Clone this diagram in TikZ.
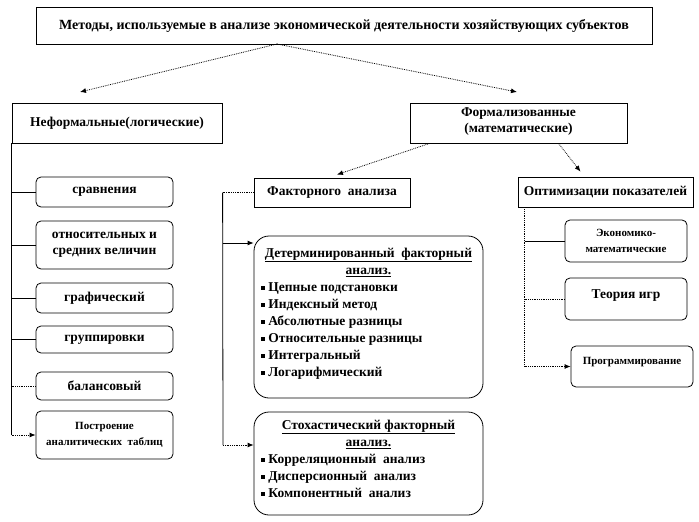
\documentclass[tikz,border=0pt]{standalone}
\usepackage{fontspec}
\setmainfont{Liberation Serif}[BoldFont={Liberation Serif Bold}]
\usetikzlibrary{arrows.meta}
\newcommand\mybul{\rule[0.12em]{0.3em}{0.3em}\hspace{0.25em}}
\begin{document}
\begin{tikzpicture}[x=1pt,y=-1pt,
  box/.style={draw, line width=0.8pt, inner sep=0pt, align=center,
    font=\bfseries\fontsize{13.5}{16}\selectfont},
  rbox/.style={box, rounded corners=5pt},
  bigbox/.style={box, rounded corners=15pt, font=\bfseries\fontsize{13.5}{17}\selectfont},
  smallfont/.style={font=\bfseries\fontsize{11}{16}\selectfont},
  conn/.style={line width=0.8pt},
  dline/.style={line width=0.8pt, densely dotted},
  tip/.style={-{Latex[length=6pt,width=5pt]}}
]
\useasboundingbox (0,0) rectangle (699,522);

% top level
\node[box, font=\bfseries\fontsize{14}{16}\selectfont, minimum width=616pt, minimum height=37pt] (top) at (344,25.5)
  {\raisebox{2pt}{Методы, используемые в анализе экономической деятельности хозяйствующих субъектов}};
\node[box, minimum width=210pt, minimum height=40pt] (nef) at (117,123)
  {\raisebox{3pt}{Неформальные(логические)}};
\node[box] (form) at (518.5,123)
  {\parbox[c][40pt][t]{217pt}{\vspace{5pt}\centering Формализованные\\(математические)\par}};

% left column
\node[rbox, minimum width=137pt, minimum height=30pt] (sr) at (104.5,192) {сравнения};
\node[rbox, minimum width=137pt, minimum height=48pt] (otn) at (104.5,245) {относительных и\\средних величин};
\node[rbox, minimum width=137pt, minimum height=30pt] (graf) at (104.5,298) {графический};
\node[rbox, minimum width=137pt, minimum height=27pt] (grup) at (104.5,339.5) {группировки};
\node[rbox, minimum width=137pt, minimum height=28pt] (bal) at (104.5,386) {балансовый};
\node[rbox, smallfont, minimum width=137pt, minimum height=48pt] (post) at (104.5,435) {Построение\\аналитических~ таблиц};

% factor analysis
\node[box, minimum width=156pt, minimum height=29pt] (fact) at (332,192.5) {Факторного~ анализа};
\node[bigbox] (det) at (368.5,317) {\parbox[c][162pt][t]{229pt}{\vspace{12pt}%
  \centering\underline{Детерминированный~ факторный}\\\underline{анализ.}\par
  \raggedright\leftskip=7pt
  \mybul Цепные подстановки\\
  \mybul Индексный метод\\
  \mybul Абсолютные разницы\\
  \mybul Относительные разницы\\
  \mybul Интегральный\\
  \mybul Логарифмический\par}};
\node[bigbox] (sto) at (368.5,463.5) {\parbox[c][103pt][t]{229pt}{\vspace{8pt}%
  \centering\underline{Стохастический факторный}\\\underline{анализ.}\par
  \raggedright\leftskip=7pt
  \mybul Корреляционный~ анализ\\
  \mybul Дисперсионный~ анализ\\
  \mybul Компонентный~ анализ\par}};

% optimisation
\node[box, minimum width=175pt, minimum height=30pt] (opt) at (605.5,192) {Оптимизации показателей};
\node[rbox, smallfont, minimum width=122pt, minimum height=42pt] (eko) at (626,241) {Экономико-\\математические};
\node[rbox, minimum width=122pt, minimum height=42pt] (teor) at (626,299) {\raisebox{10pt}{Теория игр}};
\node[rbox, smallfont, minimum width=122pt, minimum height=41pt] (prog) at (632,366.5) {\raisebox{11pt}{Программирование}};

% connectors: top
\coordinate (apex) at (277,44);
\coordinate (nefTip) at (80,92);
\coordinate (formTip) at (517,92);
\draw[dline, tip] (apex) -- (nefTip);
\draw[dline, tip] (apex) -- (formTip);
\draw[dline, tip] ([xshift=20pt]form.south west) -- ([xshift=5pt,yshift=3pt]fact.north);
\draw[dline, tip] ([xshift=40pt]form.south) -- ([xshift=-25pt,yshift=5pt]opt.north);

% left tree
\draw[conn] (nef.south west) -- (nef.south west |- post.west);
\draw[conn] (nef.south west |- sr.west) -- (sr.west);
\draw[conn] (nef.south west |- otn.west) -- (otn.west);
\draw[conn] (nef.south west |- graf.west) -- (graf.west);
\draw[conn] (nef.south west |- grup.west) -- (grup.west);
\draw[dline] (nef.south west |- bal.west) -- (bal.west);
\draw[dline, tip] (nef.south west |- post.west) -- (post.west);

% factor tree
\coordinate (ft) at ([xshift=-31pt]fact.west);
\coordinate (fb) at (223,445);
\draw[dline] (fact.west) -- (ft);
\draw[conn] (ft) -- (fb);
\draw[conn, tip] (ft |- 0,243) -- (det.west |- 0,243);
\draw[dline, tip] (fb) -- (sto.west |- fb);

% optimisation tree
\coordinate (ot) at ([xshift=7pt]opt.south west);
\draw[dline] (ot) -- (ot |- prog.west);
\draw[conn] (ot |- eko.west) -- (eko.west);
\draw[dline] (ot |- teor.west) -- (teor.west);
\draw[dline, tip] (ot |- prog.west) -- (prog.west);
\end{tikzpicture}
\end{document}
